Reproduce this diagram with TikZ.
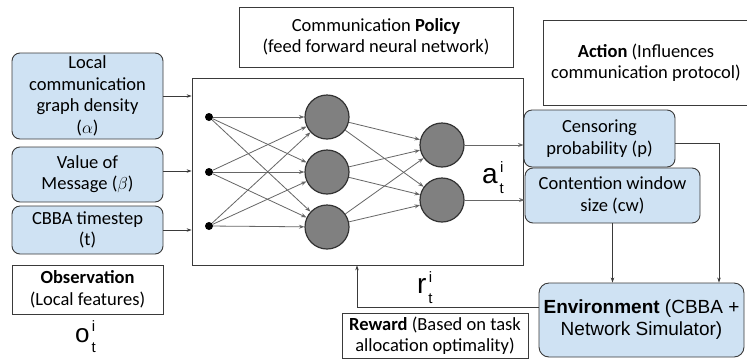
\documentclass[tikz,border=0pt]{standalone}
\usepackage{fontspec}
\usepackage{amsmath}
\setmainfont{Carlito}
\newfontfamily\arialf{Liberation Sans}
\usetikzlibrary{arrows.meta}
\definecolor{boxblue}{HTML}{CFE2F3}
\definecolor{edgec}{HTML}{3A3A3A}
\newcommand\idxlbl[2]{{\arialf\fontsize{#2}{#2}\selectfont #1}\hspace{1.5pt}{\arialf\fontsize{15}{15}\selectfont\makebox[5pt][c]{\raisebox{11pt}{i}}\hspace{-5pt}\makebox[5pt][c]{\raisebox{-10pt}{t}}}}
\begin{document}
\begin{tikzpicture}[x=1pt,y=-1pt,
 txt/.style={font=\fontsize{18.5}{21.5}\selectfont},
 bluebox/.style={draw=edgec, fill=boxblue, rounded corners=8pt, line width=0.9pt, align=center, inner sep=0pt, txt},
 plainbox/.style={draw=edgec, fill=white, line width=0.8pt, align=center, inner sep=0pt, txt},
 conn/.style={draw=edgec, line width=0.7pt, -{Stealth[length=5pt,width=3.5pt]}},
 nnedge/.style={draw=black!60, line width=0.8pt, -{Stealth[length=5.5pt,width=4pt]}},
 neuron/.style={circle, draw=black!80, fill=black!50, line width=1.2pt, minimum size=44pt, inner sep=0pt},
 inp/.style={circle, fill=black, minimum size=8pt, inner sep=0pt},
]
\useasboundingbox (0,0) rectangle (747,360);
\fill[white] (0,0) rectangle (747,360);

% input boxes
\node[bluebox, minimum width=151pt, minimum height=86pt] (b1) at (87.5,96) {Local\\communication\\graph density\\($\alpha$)};
\node[bluebox, minimum width=151pt, minimum height=55pt] (b2) at (87.5,174.5) {Value of\\Message ($\beta$)};
\node[bluebox, minimum width=151pt, minimum height=48pt] (b3) at (87.5,230) {CBBA timestep\\(t)};
\node[plainbox, minimum width=151pt, minimum height=49pt] (obs) at (87.5,289.5) {\textbf{Observation}\\(Local features)};
\node[anchor=base west, inner sep=0pt] (olbl) at (75,342) {\idxlbl{o}{26}};

% policy
\node[plainbox, minimum width=274pt, minimum height=60pt] (pol) at (376,37) {Communication \textbf{Policy}\\(feed forward neural network)};
\node[draw=edgec, line width=0.8pt, minimum width=331pt, minimum height=187pt, inner sep=0pt] (nn) at (357.5,171.5) {};

% network
\node[inp] (i1) at (209,117) {};
\node[inp] (i2) at (209,172) {};
\node[inp] (i3) at (209,226) {};
\node[neuron] (h1) at (327,117) {};
\node[neuron] (h2) at (327,172) {};
\node[neuron] (h3) at (327,227) {};
\node[neuron] (o1) at (442,145) {};
\node[neuron] (o2) at (442,200) {};
\foreach \a in {i1,i2,i3}{\foreach \b in {h1,h2,h3}{\draw[nnedge] (\a) -- (\b);}}
\foreach \a in {h1,h2,h3}{\foreach \b in {o1,o2}{\draw[nnedge] (\a) -- (\b);}}

% action side
\node[plainbox, minimum width=206pt, minimum height=85pt] (act) at (646,62.5) {\textbf{Action} (Influences\\communication protocol)};
\node[bluebox, minimum width=151pt, minimum height=57pt] (cens) at (599.5,138.5) {Censoring\\probability (p)};
\node[bluebox, minimum width=175pt, minimum height=55pt] (cont) at (612.5,195.5) {Contention window\\size (cw)};
\node[anchor=base west, inner sep=0pt] (albl) at (482,183) {\idxlbl{a}{28}};

% environment and reward
\node[bluebox, rounded corners=10pt, minimum width=205pt, minimum height=74pt, font=\arialf\fontsize{19}{22}\selectfont] (env) at (641.5,320) {\textbf{Environment} (CBBA +\\Network Simulator)};
\node[plainbox, minimum width=186pt, minimum height=45pt] (rew) at (435,335.5) {\textbf{Reward} (Based on task\\allocation optimality)};
\node[anchor=base west, inner sep=0pt] (rlbl) at (417,293) {\idxlbl{r}{28}};

% connectors
\draw[conn] (b1.east) -- (b1.east -| nn.west);
\draw[conn] ([yshift=3.5pt]b2.east) -- ([yshift=3.5pt]b2.east -| nn.west);
\draw[conn] (b3.east) -- (b3.east -| nn.west);
\draw[nnedge] (o1.east) -- (o1 -| cens.west);
\draw[nnedge] (o2.east) -- (o2 -| cont.west);
\coordinate (rk) at (719,143);
\draw[conn] (cens.east |- rk) -- (rk) -- (rk |- env.north);
\draw[conn] (cont.south) -- (cont.south |- env.north);
\coordinate (rc) at (357,307);
\draw[conn] (env.west |- rc) -- (rc) -- (rc |- nn.south);
\end{tikzpicture}
\end{document}
